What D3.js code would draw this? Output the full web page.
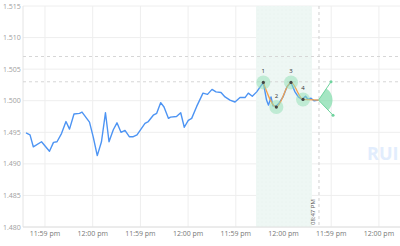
<!DOCTYPE html>
<html>
<head>
<meta charset="utf-8">
<script src="https://cdn.jsdelivr.net/npm/d3@7"></script>
<style>
body { margin: 0; background: #fff; }
text { font-family: "Open Sans", "DejaVu Sans", sans-serif; }
</style>
</head>
<body>
<div id="chart"></div>
<script>
// price series (x in tick units, value)
var times = [-0.398,-0.314,-0.245,-0.073,0.094,0.178,0.252,0.346,0.440,0.514,0.608,0.723,0.776,0.933,1.013,1.096,1.184,1.268,1.342,1.432,1.509,1.593,1.677,1.767,1.851,1.929,2.096,2.166,2.270,2.342,2.426,2.495,2.589,2.631,2.757,2.845,2.920,3.004,3.075,3.180,3.312,3.407,3.501,3.585,3.690,3.774,3.878,3.983,4.088,4.193,4.262,4.346,4.438,4.577,4.644,4.686,4.738,4.780,4.853,4.906,4.990,5.073,5.157,5.241,5.310,5.388,5.461,5.514,5.577,5.639,5.734];
var prices = [1.4949,1.4946,1.4927,1.4935,1.4920,1.4934,1.4935,1.4948,1.4967,1.4955,1.4979,1.4980,1.4982,1.4966,1.4942,1.4913,1.4935,1.4981,1.4935,1.4954,1.4965,1.4950,1.4953,1.4943,1.4943,1.4946,1.4964,1.4967,1.4977,1.4980,1.4997,1.4990,1.4972,1.4974,1.4975,1.4981,1.4958,1.4969,1.4972,1.4991,1.5012,1.5010,1.5018,1.5014,1.5013,1.5006,1.5001,1.4998,1.5005,1.5005,1.5012,1.5007,1.5014,1.5029,1.5001,1.4993,1.5006,1.4992,1.4992,1.4996,1.5006,1.5022,1.5029,1.5014,1.5006,1.5002,1.5007,1.5002,1.5004,1.5000,1.5001];

// pattern points
var patternLabels = ["1","2","3","4",""];
var patternTimes = [4.577, 4.85, 5.157, 5.409, 5.734];
var patternValues = [1.5029, 1.4990, 1.5029, 1.5002, 1.5001];

// projection fan end points
var fanTimes = [5.996, 6.038];
var fanValues = [1.5030, 1.4977];

var tickLabels = ["11:59 pm","12:00 pm","11:59 pm","12:00 pm","11:59 pm","12:00 pm","11:59 pm","12:00 pm"];
var yTicks = [1.480,1.485,1.490,1.495,1.500,1.505,1.510,1.515];
var levelLines = [1.507, 1.503];
var shadeRange = [4.423, 5.597];
var markerTime = 5.744;
var markerLabel = "08:47 PM";

var width = 400, height = 246;
var margin = {top: 6, right: 0, bottom: 19, left: 23};

var svg = d3.select('#chart').append('svg')
	.attr("width", width)
	.attr("height", height);

var x = d3.scaleLinear()
	.domain([-0.461, 7.442])
	.range([margin.left, width - margin.right]);
var y = d3.scaleLinear()
	.domain([1.480, 1.515])
	.range([height - margin.bottom, margin.top]);

// watermark
svg.append("text")
	.attr("x", 367).attr("y", 160)
	.attr("font-size", 18).attr("font-weight", "bold")
	.attr("fill", "#e2edfd")
	.text("RUI");

// grid
svg.append("g").selectAll("line")
	.data(yTicks).enter().append("line")
	.attr("x1", margin.left).attr("x2", width)
	.attr("y1", d => y(d)).attr("y2", d => y(d))
	.attr("stroke", "#eeeeee");
svg.append("g").selectAll("line")
	.data(d3.range(tickLabels.length)).enter().append("line")
	.attr("x1", d => x(d)).attr("x2", d => x(d))
	.attr("y1", margin.top).attr("y2", height - margin.bottom)
	.attr("stroke", "#eeeeee");

// shaded range with dots
var defs = svg.append("defs");
var pat = defs.append("pattern").attr("id", "dots")
	.attr("width", 4).attr("height", 4).attr("patternUnits", "userSpaceOnUse");
pat.append("rect").attr("width", 4).attr("height", 4).attr("fill", "#eef7f4");
pat.append("circle").attr("cx", 2).attr("cy", 2).attr("r", 0.45).attr("fill", "#e2eeea");
svg.append("rect")
	.attr("x", x(shadeRange[0]))
	.attr("y", margin.top)
	.attr("width", x(shadeRange[1]) - x(shadeRange[0]))
	.attr("height", height - margin.bottom - margin.top)
	.attr("fill", "url(#dots)");

// axes lines
svg.append("line")
	.attr("x1", margin.left).attr("x2", margin.left)
	.attr("y1", margin.top).attr("y2", height - margin.bottom)
	.attr("stroke", "#e4e4e4");
svg.append("line")
	.attr("x1", margin.left).attr("x2", width)
	.attr("y1", height - margin.bottom).attr("y2", height - margin.bottom)
	.attr("stroke", "#e0e0e0");

// level lines
svg.append("g").selectAll("line")
	.data(levelLines).enter().append("line")
	.attr("x1", margin.left).attr("x2", width)
	.attr("y1", d => y(d)).attr("y2", d => y(d))
	.attr("stroke", "#d6d6d6")
	.attr("stroke-dasharray", "3,3");

// marker line
svg.append("line")
	.attr("x1", x(markerTime)).attr("x2", x(markerTime))
	.attr("y1", margin.top).attr("y2", height - margin.bottom)
	.attr("stroke", "#cfcfcf")
	.attr("stroke-dasharray", "3,3");
svg.append("text")
	.attr("transform", "translate(" + (x(markerTime) - 4) + "," + (height - margin.bottom - 2) + ") rotate(-90)")
	.attr("font-size", 6).attr("fill", "#555")
	.text(markerLabel);

// tick labels
svg.append("g").selectAll("text")
	.data(yTicks).enter().append("text")
	.attr("x", 3).attr("y", d => y(d) + 2.5)
	.attr("font-size", 7).attr("fill", "#a0a0a0")
	.text(d => d3.format(".3f")(d));
svg.append("g").selectAll("text")
	.data(tickLabels).enter().append("text")
	.attr("x", (d, i) => x(i)).attr("y", 236)
	.attr("text-anchor", "middle")
	.attr("font-size", 7).attr("fill", "#777")
	.text(d => d);

// price line
var series = times.map((t, i) => [t, prices[i]]);
svg.append("path")
	.datum(series)
	.attr("fill", "none")
	.attr("stroke", "#4d94f3")
	.attr("stroke-width", 1.4)
	.attr("stroke-linejoin", "round")
	.attr("d", d3.line().x(d => x(d[0])).y(d => y(d[1])));

// pattern
var pts = patternTimes.map((t, i) => ({t: t, v: patternValues[i], label: patternLabels[i]}));
var endPt = pts[pts.length - 1];

// fan wedge
var cx = x(endPt.t), cy = y(endPt.v);
var a1 = Math.atan2(y(fanValues[0]) - cy, x(fanTimes[0]) - cx);
var a2 = Math.atan2(y(fanValues[1]) - cy, x(fanTimes[1]) - cx);
var wedge = d3.arc()
	.innerRadius(0).outerRadius(14)
	.startAngle(a1 + Math.PI / 2).endAngle(a2 + Math.PI / 2);
svg.append("path")
	.attr("transform", "translate(" + cx + "," + cy + ")")
	.attr("d", wedge())
	.attr("fill", "#7fdbaa").attr("fill-opacity", 0.7);
fanTimes.forEach(function(t, i) {
	svg.append("line")
		.attr("x1", cx).attr("y1", cy)
		.attr("x2", x(t)).attr("y2", y(fanValues[i]))
		.attr("stroke", "#6fd39e").attr("stroke-width", 1);
	svg.append("circle")
		.attr("cx", x(t)).attr("cy", y(fanValues[i]))
		.attr("r", 1.5).attr("fill", "#6fd39e");
});

svg.append("path")
	.datum(pts)
	.attr("fill", "none")
	.attr("stroke", "#f2a14e")
	.attr("stroke-width", 1.3)
	.attr("d", d3.line().curve(d3.curveMonotoneX).x(d => x(d.t)).y(d => y(d.v)));

var marks = pts.slice(0, 4);
svg.append("g").selectAll("circle")
	.data(marks).enter().append("circle")
	.attr("cx", d => x(d.t)).attr("cy", d => y(d.v))
	.attr("r", 7)
	.attr("fill", "#8fe0b4").attr("fill-opacity", 0.5);
svg.append("g").selectAll("circle")
	.data(marks).enter().append("circle")
	.attr("cx", d => x(d.t)).attr("cy", d => y(d.v))
	.attr("r", 1.6)
	.attr("fill", "#444");
svg.append("g").selectAll("text")
	.data(marks).enter().append("text")
	.attr("x", d => x(d.t)).attr("y", d => y(d.v) - 9)
	.attr("text-anchor", "middle")
	.attr("font-size", 6).attr("fill", "#333")
	.text(d => d.label);
</script>
</body>
</html>
